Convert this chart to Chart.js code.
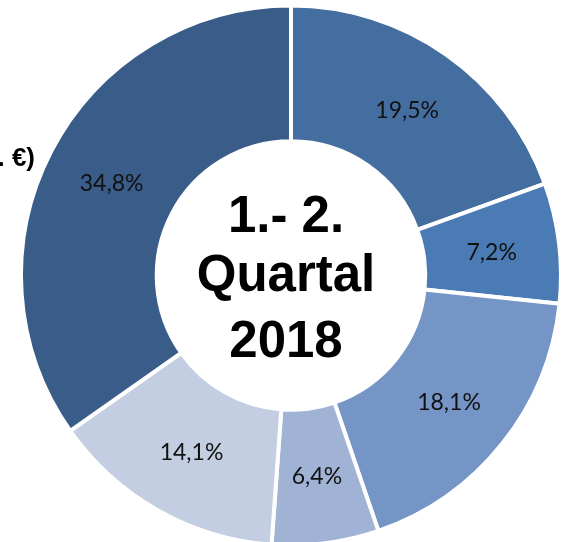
<!DOCTYPE html>
<html>
<head>
<meta charset="utf-8">
<script src="https://cdn.jsdelivr.net/npm/chart.js@4"></script>
<style>
  html, body { margin: 0; padding: 0; background: #fff; overflow: hidden; }
  #wrap { position: absolute; left: 0; top: 0; width: 582px; height: 551px; }
</style>
</head>
<body>
<div id="wrap"><canvas id="chart"></canvas></div>
<script>
// data, clockwise from the top
const segments = ["Segment A", "Segment B", "Segment C", "Segment D", "Segment E", "Segment F"];
const shares = [19.5, 7.2, 18.1, 6.4, 14.1, 34.8];
const colors = ["#436e9f", "#4a7bb5", "#7495c6", "#a1b3d5", "#c3cee2", "#3a5c89"];
const centerLines = ["1.- 2.", "Quartal", "2018"];
const sideLabel = "Mio. €)";

const sliceLabels = {
    id: "sliceLabels",
    afterDraw(chart) {
        const ctx = chart.ctx;
        const meta = chart.getDatasetMeta(0);
        ctx.save();
        ctx.fillStyle = "#111";
        ctx.font = "23px Lato";
        ctx.textAlign = "center";
        ctx.textBaseline = "middle";
        meta.data.forEach(function (arc, i) {
            const p = arc.tooltipPosition();
            ctx.fillText(shares[i].toFixed(1).replace(".", ",") + "%", p.x, p.y + 1);
        });

        // text in the hole
        const cx = (chart.chartArea.left + chart.chartArea.right) / 2 - 5;
        const cy = (chart.chartArea.top + chart.chartArea.bottom) / 2;
        ctx.fillStyle = "#000";
        ctx.font = "bold 51px 'Liberation Sans', Arial, sans-serif";
        ctx.textBaseline = "alphabetic";
        ctx.fillText(centerLines[0], cx, cy - 44);
        ctx.fillText(centerLines[1], cx, cy + 15);
        ctx.fillText(centerLines[2], cx, cy + 81);

        // cut off unit label on the left
        ctx.font = "bold 26px 'Liberation Sans', Arial, sans-serif";
        ctx.textAlign = "right";
        ctx.fillText(sideLabel, 35, 166);
        ctx.restore();
    }
};

new Chart(document.getElementById("chart"), {
    type: "doughnut",
    data: {
        labels: segments,
        datasets: [{
            data: shares,
            backgroundColor: colors,
            borderColor: "#fff",
            borderWidth: 4,
            hoverOffset: 0
        }]
    },
    options: {
        responsive: true,
        maintainAspectRatio: false,
        animation: false,
        radius: 270,
        cutout: 136,
        layout: { padding: 0 },
        plugins: {
            legend: { display: false },
            tooltip: { enabled: false }
        }
    },
    plugins: [sliceLabels]
});
</script>
</body>
</html>
